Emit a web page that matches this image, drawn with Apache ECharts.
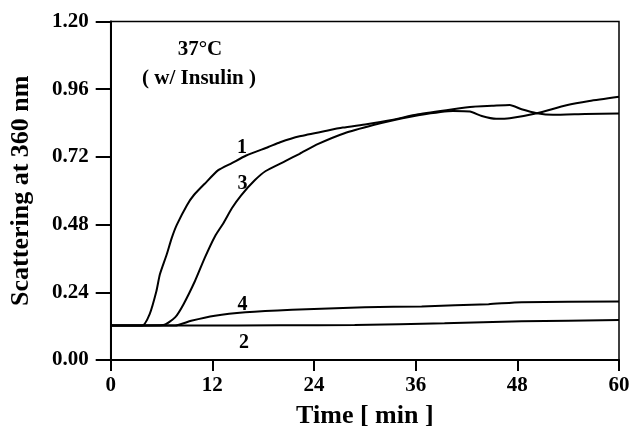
<!DOCTYPE html>
<html>
<head>
<meta charset="utf-8">
<script src="https://cdn.jsdelivr.net/npm/echarts@6/dist/echarts.min.js"></script>
<style>
html,body{margin:0;padding:0;background:#fff;}
#c{width:634px;height:434px;}
</style>
</head>
<body>
<div id="c"></div>
<script>
// Data
const xTicks = [0, 12, 24, 36, 48, 60];
const yTicks = [0.00, 0.24, 0.48, 0.72, 0.96, 1.20];

const t1 = [0, 3.7, 4.6, 5.4, 5.8, 6.6, 7.2, 7.8, 9.0, 9.8, 11.1, 12.7, 14.3, 16.0, 18.6, 20.0, 22.3, 25.5, 27.4, 30.2, 33.0, 36.3, 40.4, 42.8, 45.0, 47.1, 48.5, 50.3, 52.2, 56.0, 60.0];
const v1 = [0.122, 0.122, 0.163, 0.245, 0.303, 0.373, 0.432, 0.479, 0.549, 0.584, 0.625, 0.673, 0.698, 0.725, 0.755, 0.772, 0.793, 0.813, 0.824, 0.836, 0.850, 0.871, 0.889, 0.898, 0.901, 0.904, 0.889, 0.875, 0.869, 0.872, 0.874];

const t3 = [0, 6.2, 7.6, 8.6, 9.95, 11.1, 12.3, 13.3, 14.3, 15.4, 17.0, 18.3, 20.6, 22.3, 24.5, 27.6, 31.0, 33.5, 36.3, 40.4, 42.4, 43.8, 45.5, 47.1, 50.3, 53.8, 56.5, 60.0];
const v3 = [0.122, 0.124, 0.151, 0.198, 0.280, 0.362, 0.438, 0.485, 0.538, 0.584, 0.637, 0.670, 0.705, 0.731, 0.766, 0.804, 0.833, 0.851, 0.868, 0.883, 0.881, 0.865, 0.855, 0.857, 0.875, 0.903, 0.918, 0.933];

const t4 = [0, 7.6, 9.5, 12.3, 15.9, 21.4, 30.0, 36.7, 44.6, 48.5, 60.0];
const v4 = [0.122, 0.122, 0.139, 0.157, 0.169, 0.178, 0.187, 0.190, 0.198, 0.205, 0.207];

const t2 = [0, 10, 20, 28.8, 39.4, 48.5, 60];
const v2 = [0.122, 0.122, 0.123, 0.124, 0.130, 0.137, 0.142];

const curveNames = ['1', '2', '3', '4'];

function pairs(t, v) { return t.map((x, i) => [x, v[i]]); }

const FONT = '"Liberation Serif", "Times New Roman", serif';
const chart = echarts.init(document.getElementById('c'), null, {renderer: 'canvas'});

const lineStyle = {color: '#000', width: 2};
function mkSeries(name, t, v) {
  return {
    name: name, type: 'line', data: pairs(t, v), smooth: 0.2,
    showSymbol: false, symbol: 'none', lineStyle: lineStyle, animation: false
  };
}

function txt(s, x, y, size) {
  return {type: 'text', style: {text: s, x: x, y: y, align: 'center', verticalAlign: 'middle', font: 'bold ' + size + 'px ' + FONT, fill: '#000'}};
}

chart.setOption({
  backgroundColor: '#fff',
  animation: false,
  grid: {left: 110.7, right: 15, top: 21.5, bottom: 71, show: true, borderColor: '#000', borderWidth: 1.5, backgroundColor: 'transparent'},
  xAxis: {
    type: 'value', min: xTicks[0], max: xTicks[xTicks.length - 1], interval: 12,
    name: 'Time [ min ]', nameLocation: 'middle', nameGap: 43,
    nameTextStyle: {fontFamily: FONT, fontWeight: 'bold', fontSize: 26, color: '#000'},
    axisLine: {show: true, lineStyle: {color: '#000', width: 2}},
    axisTick: {show: true, inside: false, length: 11, lineStyle: {color: '#000', width: 2}},
    axisLabel: {fontFamily: FONT, fontWeight: 'bold', fontSize: 21, color: '#000', margin: 15},
    splitLine: {show: false}
  },
  yAxis: {
    type: 'value', min: yTicks[0], max: yTicks[yTicks.length - 1], interval: 0.24,
    name: 'Scattering at 360 nm', nameLocation: 'middle', nameGap: 76, nameRotate: 90,
    nameTextStyle: {fontFamily: FONT, fontWeight: 'bold', fontSize: 26, color: '#000'},
    axisLine: {show: true, lineStyle: {color: '#000', width: 2}},
    axisTick: {show: true, inside: false, length: 15, lineStyle: {color: '#000', width: 2}},
    axisLabel: {fontFamily: FONT, fontWeight: 'bold', fontSize: 21, color: '#000', margin: 22,
      formatter: v => v.toFixed(2)},
    splitLine: {show: false}
  },
  graphic: [
    txt('37°C', 200, 50, 21),
    txt('( w/ Insulin )', 199, 79, 21),
    txt(curveNames[0], 242, 148, 20),
    txt(curveNames[2], 242.5, 184, 20),
    txt(curveNames[3], 242.5, 305, 20),
    txt(curveNames[1], 244, 342.5, 20)
  ],
  series: [
    mkSeries(curveNames[0], t1, v1),
    mkSeries(curveNames[2], t3, v3),
    mkSeries(curveNames[3], t4, v4),
    mkSeries(curveNames[1], t2, v2)
  ]
});
</script>
</body>
</html>
